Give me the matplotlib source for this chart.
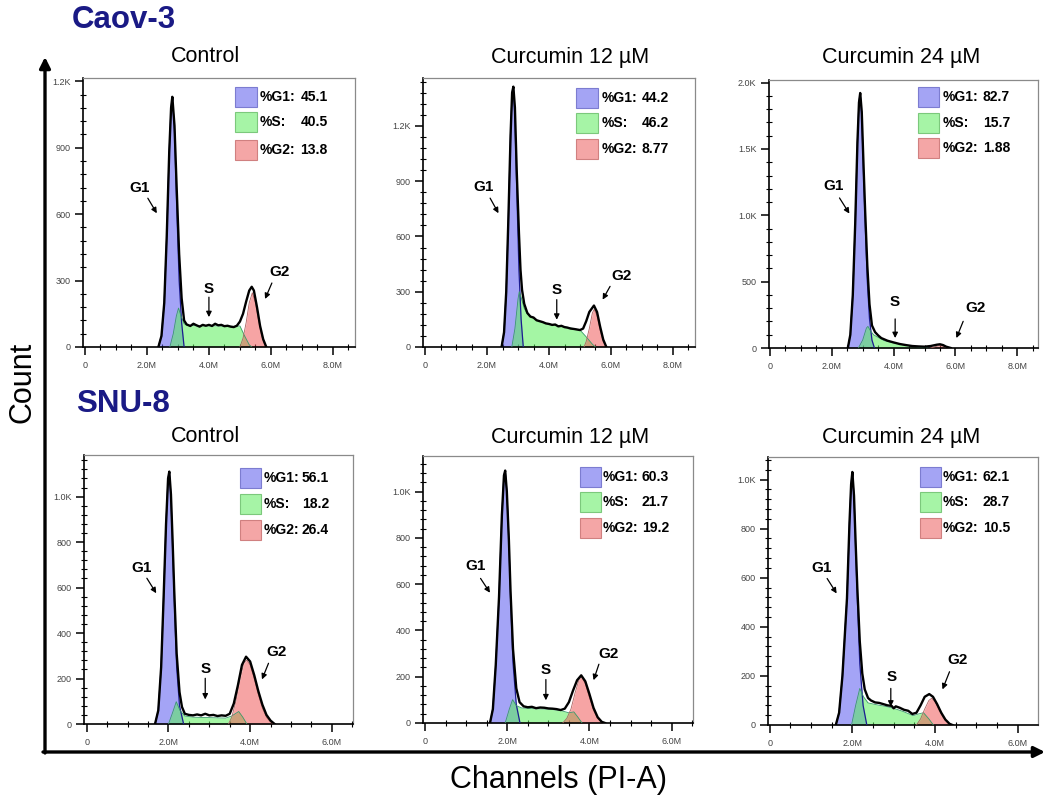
import matplotlib
matplotlib.use("Agg")
import matplotlib.pyplot as plt
from matplotlib.patches import Rectangle
from matplotlib.ticker import MultipleLocator, FixedLocator

plt.rcParams['font.family'] = ['Liberation Sans', 'DejaVu Sans']

# ---------------- data ----------------
CELL_LINES = ["Caov-3", "SNU-8"]
TREATMENTS = ["Control", "Curcumin 12 µM", "Curcumin 24 µM"]
PCT_G1 = ["45.1", "44.2", "82.7", "56.1", "60.3", "62.1"]
PCT_S = ["40.5", "46.2", "15.7", "18.2", "21.7", "28.7"]
PCT_G2 = ["13.8", "8.77", "1.88", "26.4", "19.2", "10.5"]

X_TICKS = [[0, 2, 4, 6, 8]] * 3 + [[0, 2, 4, 6]] * 3            # millions
X_TICK_LABELS = [["0", "2.0M", "4.0M", "6.0M", "8.0M"]] * 3 + [["0", "2.0M", "4.0M", "6.0M"]] * 3
Y_TICKS = [[0, 300, 600, 900, 1200], [0, 300, 600, 900, 1200], [0, 500, 1000, 1500, 2000],
           [0, 200, 400, 600, 800, 1000], [0, 200, 400, 600, 800, 1000], [0, 200, 400, 600, 800, 1000]]
Y_TICK_LABELS = [["0", "300", "600", "900", "1.2K"], ["0", "300", "600", "900", "1.2K"],
                 ["0", "500", "1.0K", "1.5K", "2.0K"],
                 ["0", "200", "400", "600", "800", "1.0K"], ["0", "200", "400", "600", "800", "1.0K"],
                 ["0", "200", "400", "600", "800", "1.0K"]]

# Histogram readings (x in millions of PI-A channel units, y = count)
TOTAL_X = [
    [2.37, 2.47, 2.56, 2.64, 2.72, 2.78, 2.82, 2.89, 2.96, 3.04, 3.12, 3.20, 3.28, 3.40, 3.50, 3.60, 3.70, 3.80,
     3.90, 4.00, 4.10, 4.20, 4.30, 4.40, 4.50, 4.60, 4.70, 4.80, 4.90, 5.00, 5.10, 5.20, 5.30, 5.38, 5.45, 5.55,
     5.65, 5.75, 5.85],
    [2.47, 2.55, 2.62, 2.69, 2.76, 2.81, 2.85, 2.90, 2.96, 3.03, 3.08, 3.13, 3.20, 3.30, 3.40, 3.50, 3.60, 3.70,
     3.80, 3.90, 4.00, 4.10, 4.20, 4.30, 4.40, 4.50, 4.60, 4.70, 4.80, 4.90, 5.00, 5.10, 5.20, 5.30, 5.45, 5.55,
     5.65, 5.75, 5.85],
    [2.52, 2.60, 2.68, 2.76, 2.83, 2.88, 2.92, 2.97, 3.03, 3.08, 3.15, 3.22, 3.30, 3.40, 3.50, 3.60, 3.80, 4.00,
     4.20, 4.40, 4.60, 4.80, 5.00, 5.20, 5.40, 5.50, 5.60, 5.70, 5.85],
    [1.67, 1.75, 1.82, 1.88, 1.94, 1.99, 2.02, 2.06, 2.10, 2.14, 2.20, 2.27, 2.33, 2.40, 2.50, 2.60, 2.70, 2.80,
     2.90, 3.00, 3.10, 3.20, 3.30, 3.40, 3.50, 3.60, 3.70, 3.80, 3.90, 4.00, 4.10, 4.20, 4.30, 4.40, 4.50, 4.60],
    [1.58, 1.65, 1.72, 1.80, 1.87, 1.92, 1.95, 1.99, 2.04, 2.08, 2.14, 2.22, 2.30, 2.40, 2.50, 2.60, 2.70, 2.80,
     2.90, 3.00, 3.10, 3.20, 3.30, 3.40, 3.50, 3.60, 3.70, 3.80, 3.90, 4.00, 4.10, 4.20, 4.30, 4.38],
    [1.60, 1.68, 1.76, 1.87, 1.93, 1.97, 2.00, 2.04, 2.08, 2.12, 2.18, 2.24, 2.30, 2.38, 2.45, 2.55, 2.65, 2.75,
     2.85, 2.95, 3.00, 3.05, 3.15, 3.25, 3.35, 3.45, 3.55, 3.65, 3.75, 3.86, 3.95, 4.05, 4.15, 4.25, 4.35, 4.42],
]
TOTAL_Y = [
    [0, 50, 200, 500, 880, 1080, 1130, 1000, 720, 420, 220, 120, 102, 95, 105, 98, 92, 100,
     96, 100, 95, 105, 98, 100, 94, 96, 92, 90, 96, 115, 150, 205, 255, 272, 255, 180,
     95, 35, 0],
    [0, 80, 300, 700, 1150, 1380, 1413, 1300, 950, 620, 420, 310, 235, 185, 165, 160, 145, 140,
     135, 128, 125, 120, 122, 112, 115, 108, 105, 100, 98, 95, 92, 100, 140, 190, 225, 190,
     110, 40, 0],
    [0, 100, 400, 950, 1550, 1850, 1922, 1780, 1360, 1030, 620, 330, 170, 120, 95, 75, 55, 42,
     30, 22, 15, 12, 10, 15, 25, 28, 22, 10, 0],
    [0, 60, 250, 555, 880, 1080, 1110, 1010, 810, 590, 310, 140, 75, 45, 40, 38, 42, 38,
     45, 38, 40, 35, 38, 36, 45, 90, 170, 260, 296, 275, 215, 145, 85, 40, 15, 0],
    [0, 60, 250, 545, 900, 1070, 1091, 1000, 790, 570, 320, 150, 90, 72, 68, 70, 64, 67,
     66, 63, 62, 60, 56, 62, 90, 140, 185, 206, 180, 125, 65, 25, 5, 0],
    [0, 50, 200, 516, 820, 980, 1031, 935, 740, 560, 340, 210, 145, 110, 100, 92, 90, 85,
     80, 78, 68, 76, 70, 62, 58, 45, 50, 80, 115, 126, 115, 85, 50, 22, 5, 0],
]

G1_X = [
    [2.37, 2.47, 2.56, 2.64, 2.72, 2.78, 2.82, 2.89, 2.96, 3.04, 3.12, 3.20],
    [2.47, 2.55, 2.62, 2.69, 2.76, 2.81, 2.85, 2.90, 2.96, 3.03, 3.10, 3.17],
    [2.52, 2.60, 2.68, 2.76, 2.83, 2.88, 2.92, 2.97, 3.03, 3.08, 3.15, 3.22, 3.30, 3.38],
    [1.67, 1.75, 1.82, 1.88, 1.94, 1.99, 2.02, 2.06, 2.10, 2.14, 2.20, 2.27, 2.37],
    [1.58, 1.65, 1.72, 1.80, 1.87, 1.92, 1.95, 1.99, 2.04, 2.08, 2.14, 2.22, 2.31],
    [1.60, 1.68, 1.76, 1.87, 1.93, 1.97, 2.00, 2.04, 2.08, 2.12, 2.18, 2.26, 2.35],
]
G1_Y = [
    [0, 50, 200, 500, 880, 1080, 1130, 980, 640, 300, 110, 0],
    [0, 80, 300, 700, 1150, 1380, 1413, 1250, 850, 420, 150, 0],
    [0, 100, 400, 950, 1550, 1850, 1922, 1750, 1300, 950, 500, 220, 60, 0],
    [0, 60, 250, 555, 880, 1080, 1110, 1000, 780, 555, 250, 80, 0],
    [0, 60, 250, 545, 900, 1070, 1091, 1000, 780, 545, 260, 80, 0],
    [0, 50, 200, 516, 820, 980, 1031, 930, 720, 516, 250, 80, 0],
]

S_X = [
    [2.74, 2.85, 2.95, 3.02, 3.10, 3.20, 3.30, 3.60, 4.00, 4.40, 4.80, 5.00, 5.15, 5.30, 5.38],
    [2.80, 2.90, 3.00, 3.04, 3.10, 3.20, 3.30, 3.50, 3.70, 3.90, 4.20, 4.50, 4.80, 5.00, 5.20, 5.40, 5.50],
    [2.86, 3.00, 3.12, 3.17, 3.25, 3.35, 3.46, 3.70, 4.00, 4.40, 4.90, 5.10],
    [2.00, 2.10, 2.19, 2.28, 2.40, 2.60, 3.00, 3.40, 3.55, 3.72, 3.82, 3.92],
    [1.95, 2.05, 2.13, 2.22, 2.35, 2.60, 3.00, 3.30, 3.50, 3.62, 3.72, 3.82],
    [1.98, 2.08, 2.18, 2.27, 2.38, 2.60, 2.83, 3.00, 3.23, 3.47, 3.60, 3.72, 3.85, 3.96],
]
S_Y = [
    [0, 60, 140, 176, 140, 105, 98, 96, 96, 95, 93, 95, 50, 10, 0],
    [0, 100, 260, 300, 270, 210, 180, 155, 140, 128, 118, 110, 100, 92, 55, 15, 0],
    [0, 60, 150, 163, 130, 100, 85, 55, 38, 20, 5, 0],
    [0, 50, 98, 60, 35, 30, 28, 26, 35, 55, 30, 0],
    [0, 60, 101, 75, 65, 62, 60, 54, 44, 48, 25, 0],
    [0, 80, 149, 115, 90, 82, 75, 68, 55, 38, 45, 50, 25, 0],
]

G2_X = [
    [5.00, 5.10, 5.20, 5.30, 5.40, 5.50, 5.60, 5.70, 5.80, 5.85],
    [5.13, 5.20, 5.30, 5.40, 5.46, 5.55, 5.65, 5.75, 5.86],
    [5.20, 5.35, 5.50, 5.65, 5.80],
    [3.47, 3.55, 3.65, 3.75, 3.85, 3.92, 4.00, 4.10, 4.20, 4.30, 4.40, 4.50, 4.57],
    [3.35, 3.45, 3.55, 3.65, 3.75, 3.81, 3.90, 4.00, 4.10, 4.20, 4.32],
    [3.55, 3.65, 3.75, 3.85, 3.92, 4.00, 4.10, 4.20, 4.30, 4.40],
]
G2_Y = [
    [0, 40, 110, 200, 245, 200, 120, 50, 10, 0],
    [0, 30, 100, 185, 205, 170, 90, 30, 0],
    [0, 10, 20, 10, 0],
    [0, 30, 100, 200, 270, 281, 260, 200, 130, 70, 30, 8, 0],
    [0, 20, 60, 130, 190, 199, 170, 110, 55, 20, 0],
    [0, 25, 65, 100, 109, 95, 60, 30, 10, 0],
]

# ---------------- layout ----------------
W, H = 1045, 802
fig = plt.figure(figsize=(W / 100, H / 100), dpi=100)

# panel boxes in pixels: left, top, right, bottom
BOXES = [(83, 78, 355, 347), (423, 78, 695, 347), (769, 80, 1038, 348),
         (84, 455, 353, 724), (423, 456, 693, 723), (768, 457, 1038, 725)]
XLIMS = [(-0.06, 8.71), (-0.065, 8.71), (-0.03, 8.67), (-0.07, 6.52), (-0.05, 6.52), (-0.04, 6.49)]
YTOPS = [1215, 1460, 2020, 1183, 1154, 1092]
YMINOR = [60, 60, 100, 40, 40, 40]

# annotation layout (data coords): text pos, arrow start, arrow end
ANN = [
    {"G1": ((1.77, 717), (2.03, 672), (2.32, 604)), "S": ((4.0, 262), (4.0, 225), (4.0, 135)),
     "G2": ((6.29, 338), (6.03, 289), (5.81, 217))},
    {"G1": ((1.88, 871), (2.10, 808), (2.37, 726)), "S": ((4.25, 311), (4.25, 257), (4.25, 148)),
     "G2": ((6.34, 383), (5.97, 329), (5.73, 257))},
    {"G1": ((2.05, 1219), (2.25, 1131), (2.57, 1013)), "S": ((4.05, 344), (4.05, 219), (4.05, 75)),
     "G2": ((6.65, 302), (6.25, 201), (6.03, 75))},
    {"G1": ((1.35, 685), (1.47, 641), (1.70, 575)), "S": ((2.90, 240), (2.90, 201), (2.90, 108)),
     "G2": ((4.65, 318), (4.45, 267), (4.29, 196))},
    {"G1": ((1.22, 678), (1.35, 625), (1.58, 563)), "S": ((2.94, 228), (2.94, 188), (2.94, 98)),
     "G2": ((4.46, 300), (4.23, 254), (4.10, 185))},
    {"G1": ((1.25, 638), (1.39, 597), (1.62, 536)), "S": ((2.95, 194), (2.93, 149), (2.93, 75)),
     "G2": ((4.54, 265), (4.35, 217), (4.18, 145))},
]
# legend layout (axes fraction): square left, row centers, label x, value x
LEG = [(0.559, [0.928, 0.835, 0.732], 0.650, 0.800),
       (0.563, [0.926, 0.833, 0.736], 0.655, 0.803),
       (0.554, [0.937, 0.840, 0.745], 0.645, 0.795),
       (0.580, [0.915, 0.818, 0.721], 0.666, 0.810),
       (0.580, [0.921, 0.828, 0.730], 0.667, 0.810),
       (0.563, [0.925, 0.832, 0.735], 0.648, 0.795)]

C_G1, C_S, C_G2 = '#5a5af0', '#5af05a', '#f05a5a'
SQ_G1, SQ_S, SQ_G2 = '#a4a4f4', '#a6f4a6', '#f4a6a6'
NAVY = '#1a1a85'

# overlay for big axes arrows and shared labels
ov = fig.add_axes([0, 0, 1, 1])
ov.set_xlim(0, W)
ov.set_ylim(H, 0)
ov.axis('off')
ov.annotate('', xy=(45, 57), xytext=(45, 753),
            arrowprops=dict(arrowstyle='-|>', lw=2.4, color='black', mutation_scale=16, shrinkA=0, shrinkB=0))
ov.annotate('', xy=(1045, 752), xytext=(43, 752),
            arrowprops=dict(arrowstyle='-|>', lw=2.4, color='black', mutation_scale=16, shrinkA=0, shrinkB=0))
ov.text(22, 382, "Count", rotation=90, ha='center', va='center', fontsize=22)
ov.text(559, 780, "Channels (PI-A)", ha='center', va='center', fontsize=22)
ov.text(72, 20, CELL_LINES[0], ha='left', va='center', fontsize=22.5, fontweight='bold', color=NAVY)
ov.text(76, 404, CELL_LINES[1], ha='left', va='center', fontsize=22.5, fontweight='bold', color=NAVY)
TITLE_X = [205, 570, 901]
for r, ty in enumerate([57, 437]):
    for c in range(3):
        ov.text(TITLE_X[c], ty, TREATMENTS[c], ha='center', va='center', fontsize=15.5)

for i in range(6):
    l, t, r, b = BOXES[i]
    ax = fig.add_axes([l / W, 1 - b / H, (r - l) / W, (b - t) / H])
    ax.set_xlim(*XLIMS[i])
    ax.set_ylim(0, YTOPS[i])

    ax.fill_between(G1_X[i], G1_Y[i], color=C_G1, alpha=0.55, lw=0, zorder=2)
    ax.plot(G1_X[i], G1_Y[i], color='#1c1c90', lw=0.9, zorder=3)
    ax.fill_between(S_X[i], S_Y[i], color=C_S, alpha=0.55, lw=0, zorder=2)
    ax.plot(S_X[i], S_Y[i], color='#3a9a6a', lw=0.6, zorder=3)
    ax.fill_between(G2_X[i], G2_Y[i], color=C_G2, alpha=0.55, lw=0, zorder=2)
    ax.plot(G2_X[i], G2_Y[i], color='#b06060', lw=0.6, zorder=3)
    ax.plot(TOTAL_X[i], TOTAL_Y[i], color='black', lw=1.7, zorder=5, solid_joinstyle='round')

    # axes styling
    for side in ('top', 'right'):
        ax.spines[side].set_color('#8a8a8a')
        ax.spines[side].set_linewidth(0.9)
    for side in ('left', 'bottom'):
        ax.spines[side].set_color('black')
        ax.spines[side].set_linewidth(1.2)
    ax.xaxis.set_major_locator(FixedLocator(X_TICKS[i]))
    ax.set_xticklabels(X_TICK_LABELS[i])
    ax.xaxis.set_minor_locator(MultipleLocator(0.5))
    ax.yaxis.set_major_locator(FixedLocator(Y_TICKS[i]))
    ax.set_yticklabels(Y_TICK_LABELS[i])
    ax.yaxis.set_minor_locator(MultipleLocator(YMINOR[i]))
    ax.tick_params(which='major', direction='out', length=6, width=1.1, labelsize=6.5,
                   labelcolor='#444444', pad=3)
    ax.tick_params(which='minor', direction='inout', length=4, width=0.8)
    ax.tick_params(axis='x', which='major', pad=4)

    # annotations
    for key in ("G1", "S", "G2"):
        (tx, ty), (sx, sy), (ex, ey) = ANN[i][key]
        ax.text(tx, ty, key, ha='center', va='center', fontsize=11, fontweight='bold', zorder=6)
        ax.annotate('', xy=(ex, ey), xytext=(sx, sy),
                    arrowprops=dict(arrowstyle='-|>', lw=0.9, color='black', mutation_scale=8,
                                    shrinkA=0, shrinkB=0), zorder=6)

    # legend boxes
    sq_l, rows, lab_x, val_x = LEG[i]
    labels = ["%G1:", "%S:", "%G2:"]
    vals = [PCT_G1[i], PCT_S[i], PCT_G2[i]]
    for k, (fc, ec) in enumerate([(SQ_G1, '#7c7cd0'), (SQ_S, '#7cc87c'), (SQ_G2, '#d08080')]):
        ax.add_patch(Rectangle((sq_l, rows[k] - 0.037), 0.079, 0.074, transform=ax.transAxes,
                               facecolor=fc, edgecolor=ec, lw=0.8, zorder=6))
        ax.text(lab_x, rows[k], labels[k], transform=ax.transAxes, ha='left', va='center',
                fontsize=10, fontweight='bold', zorder=7)
        ax.text(val_x, rows[k], vals[k], transform=ax.transAxes, ha='left', va='center',
                fontsize=10, fontweight='bold', zorder=7)

fig.savefig("out.png", dpi=100)
